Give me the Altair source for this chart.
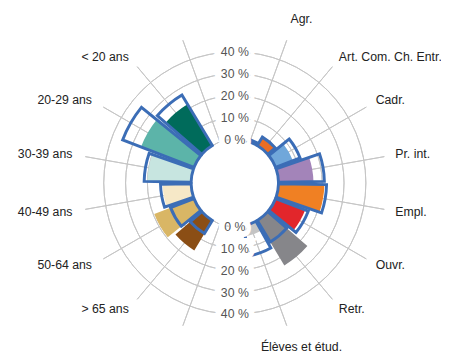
import math
import altair as alt
import pandas as pd

# ---- data ----
right_cats = ["Agr.", "Art. Com. Ch. Entr.", "Cadr.", "Pr. int.", "Empl.", "Ouvr.", "Retr.", "Élèves et étud."]
right_fill = [0.4, 5, 8.5, 16, 21, 14.5, 24, 5]
right_outline = [1, 4.5, 12, 21, 22, 16, 11.5, 14]
right_colors = ["#7a9a3a", "#ea6d24", "#70a7da", "#a384b9", "#f08023", "#e2262b", "#86868a", "#c4c4c4"]

left_cats = ["< 20 ans", "20-29 ans", "30-39 ans", "40-49 ans", "50-64 ans", "> 65 ans"]
left_fill = [22, 26, 20, 13, 19.5, 16]
left_outline = [27, 35, 21.5, 14, 11.5, 7]
left_colors = ["#006b5b", "#5cb4a9", "#c7e5e0", "#f6e8c7", "#d9b665", "#8b4e15"]

tick_values = [0, 10, 20, 30, 40]
tick_labels = ["0 %", "10 %", "20 %", "30 %", "40 %"]

# ---- layout helpers ----
STEP = 20          # degrees per slot
HALF = 9           # half bar width (deg)
CX, CY = 231, 175  # polar centre inside the view
FONT = "Liberation Sans"

rows = []
for i, c in enumerate(right_cats):
    a = STEP * (i + 1)
    rows.append(dict(cat=c, a=a, t0=a - HALF, t1=a + HALF, fill=right_fill[i],
                     outline=right_outline[i], color=right_colors[i], side="R"))
for j, c in enumerate(left_cats):
    a = 320 - STEP * j
    rows.append(dict(cat=c, a=a, t0=a - HALF, t1=a + HALF, fill=left_fill[j],
                     outline=left_outline[j], color=left_colors[j], side="L"))
bars = pd.DataFrame(rows)
bars["zero"] = 0
bars["lab_r"] = 55.5
bars.loc[bars["cat"].isin(["Agr.", "Élèves et étud."]), "side"] = "C"
bars.loc[bars["side"] == "C", "lab_r"] = 60

spoke_angles = [r["a"] for r in rows] + [200, 340]
spokes = pd.DataFrame({"a": spoke_angles, "r0": 0, "r1": 49.5})

rings = pd.DataFrame({"v": tick_values, "t0": 0, "t1": 360})

axis_lab = pd.DataFrame(
    [dict(v=v, lab=l, a=0) for v, l in zip(tick_values, tick_labels)]
    + [dict(v=v, lab=l, a=180) for v, l in zip(tick_values, tick_labels)]
)

ts = alt.Scale(domain=[0, 360], range=[0, 2 * math.pi])
rs = alt.Scale(type="linear", domain=[0, 40], range=[44.5, 133.5], zero=False)

ring_layer = alt.Chart(rings).mark_arc(
    filled=False, stroke="#c6c6c6", strokeWidth=1, x=CX, y=CY
).encode(
    theta=alt.Theta("t0:Q", scale=ts, stack=False),
    theta2="t1:Q",
    radius=alt.Radius("v:Q", scale=rs),
    radius2="v:Q",
)

spoke_layer = alt.Chart(spokes).mark_arc(
    filled=False, stroke="#c6c6c6", strokeWidth=1, x=CX, y=CY
).encode(
    theta=alt.Theta("a:Q", scale=ts, stack=False),
    theta2="a:Q",
    radius=alt.Radius("r1:Q", scale=rs),
    radius2="r0:Q",
)

fill_layer = alt.Chart(bars).mark_arc(x=CX, y=CY).encode(
    theta=alt.Theta("t0:Q", scale=ts, stack=False),
    theta2="t1:Q",
    radius=alt.Radius("fill:Q", scale=rs),
    radius2="zero:Q",
    color=alt.Color("color:N", scale=None),
)

outline_layer = alt.Chart(bars).mark_arc(
    filled=False, stroke="#3b6db6", strokeWidth=3, x=CX, y=CY
).encode(
    theta=alt.Theta("t0:Q", scale=ts, stack=False),
    theta2="t1:Q",
    radius=alt.Radius("outline:Q", scale=rs),
    radius2="zero:Q",
)

halo = alt.Chart(axis_lab).mark_text(
    font=FONT, fontSize=12.5, fill="white", stroke="white", strokeWidth=12,
    baseline="middle", align="center", x=CX, y=CY, dy=0.5
).encode(
    theta=alt.Theta("a:Q", scale=ts, stack=False),
    radius=alt.Radius("v:Q", scale=rs),
    text="lab:N",
)

axis_text = alt.Chart(axis_lab).mark_text(
    font=FONT, fontSize=12.5, color="#555555",
    baseline="middle", align="center", x=CX, y=CY, dy=0.5
).encode(
    theta=alt.Theta("a:Q", scale=ts, stack=False),
    radius=alt.Radius("v:Q", scale=rs),
    text="lab:N",
)

def cat_labels(side, align, dx=0):
    return alt.Chart(bars).transform_filter(
        alt.datum.side == side
    ).mark_text(
        font=FONT, fontSize=12.5, color="#222222",
        baseline="middle", align=align, x=CX, y=CY, dx=dx
    ).encode(
        theta=alt.Theta("a:Q", scale=ts, stack=False),
        radius=alt.Radius("lab_r:Q", scale=rs),
        text="cat:N",
    )

chart = alt.layer(
    ring_layer, spoke_layer, fill_layer, outline_layer, halo, axis_text,
    cat_labels("R", "left", -2), cat_labels("L", "right"), cat_labels("C", "center", 7),
).properties(
    width=441, height=349, padding=0,
    autosize=alt.AutoSizeParams(type="none"),
).configure_view(stroke=None)

chart.save("out.html", embed_options={"renderer": "svg", "actions": False})
